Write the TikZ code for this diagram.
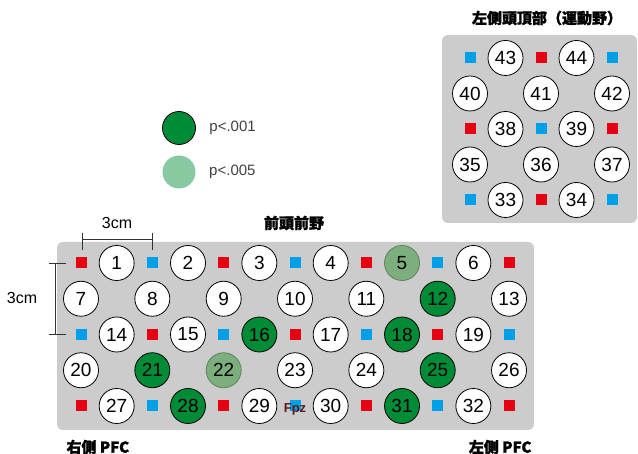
\documentclass[tikz,border=0pt]{standalone}
\usepackage{fontspec}
\setmainfont{Liberation Sans}
\newfontfamily\jp[FakeBold=1.5]{Noto Sans CJK JP}
\usetikzlibrary{positioning}

\definecolor{srcred}{HTML}{E60012}
\definecolor{detblue}{HTML}{00A0E9}
\definecolor{darkgrn}{HTML}{008B37}
\definecolor{lightgrn}{HTML}{7DAE7D}
\definecolor{legendgrn}{HTML}{88C9A1}
\definecolor{panelgray}{HTML}{CCCCCC}
\definecolor{fpzcol}{HTML}{5A1A1A}

\tikzset{
    elec/.style={circle, draw=black, line width=0.8pt, fill=white, minimum size=35pt,
                 inner sep=0pt, font=\fontsize{19}{19}\selectfont},
    sigA/.style={elec, fill=darkgrn},
    sigB/.style={elec, fill=lightgrn, draw=lightgrn!75!black},
    srcbox/.style={fill=srcred, minimum size=11pt, inner sep=0pt},
    detbox/.style={fill=detblue, minimum size=11pt, inner sep=0pt},
    jplabel/.style={font=\jp\bfseries\fontsize{15}{15}\selectfont},
    scalebar/.style={draw=black!80, line width=0.8pt}
}

\begin{document}
\begin{tikzpicture}[x=1pt, y=-1pt]
\useasboundingbox (0,0) rectangle (638,454);

% panels
\fill[panelgray, rounded corners=6pt] (57,242) rectangle (534,430);
\fill[panelgray, rounded corners=6pt] (442,35) rectangle (637,223);

% labels
\node[jplabel] (motor) at (547,18) {左側頭頂部（運動野）};
\node[jplabel] (pfc) at (294,223) {前頭前野};
\node[jplabel, anchor=west] (rpfc) at (63,447) {右側 PFC};
\node[jplabel, anchor=east] (lpfc) at (535,447) {左側 PFC};

% legend
\node[circle, draw=black, line width=0.8pt, fill=darkgrn, minimum size=33pt] (legA) at (179,128) {};
\node[circle, fill=legendgrn, minimum size=33pt] (legB) at (179,172) {};
\node[anchor=west, text=black!75, font=\fontsize{15}{15}\selectfont, right=10pt of legA] (legAt) {p<.001};
\node[anchor=west, text=black!75, font=\fontsize{15}{15}\selectfont, right=10pt of legB] (legBt) {p<.005};

% scale bars
\draw[scalebar] (82,233) -- (82,250);
\draw[scalebar] (152,233) -- (152,250);
\draw[scalebar] (82,239) -- (152,239);
\node[font=\fontsize{16}{16}\selectfont] (hcm) at (117,223) {3cm};
\draw[scalebar] (49,263) -- (66,263);
\draw[scalebar] (49,334) -- (66,334);
\draw[scalebar] (55,263) -- (55,334);
\node[font=\fontsize{16}{16}\selectfont] (vcm) at (22,298) {3cm};

% frontal grid
\begin{scope}[shift={(81,263)}, x=35.67pt, y=-35.75pt]
    \foreach \k in {0,4,8,12} {
        \node[srcbox] (sa\k) at (\k,0) {};
        \node[detbox] (da\k) at (\k,2) {};
        \node[srcbox] (sc\k) at (\k,4) {};
    }
    \foreach \k in {2,6,10} {
        \node[detbox] (db\k) at (\k,0) {};
        \node[srcbox] (sb\k) at (\k,2) {};
        \node[detbox] (dc\k) at (\k,4) {};
    }

    \foreach \k/\n in {1/1, 3/2, 5/3, 7/4, 11/6} \node[elec] (e\n) at (\k,0) {\n};
    \node[sigB] (e5) at (9,0) {5};

    \foreach \k/\n in {0/7, 2/8, 4/9, 6/10, 8/11, 12/13} \node[elec] (e\n) at (\k,1) {\n};
    \node[sigA] (e12) at (10,1) {12};

    \foreach \k/\n in {1/14, 3/15, 7/17, 11/19} \node[elec] (e\n) at (\k,2) {\n};
    \node[sigA] (e16) at (5,2) {16};
    \node[sigA] (e18) at (9,2) {18};

    \foreach \k/\n in {0/20, 6/23, 8/24, 12/26} \node[elec] (e\n) at (\k,3) {\n};
    \node[sigA] (e21) at (2,3) {21};
    \node[sigB] (e22) at (4,3) {22};
    \node[sigA] (e25) at (10,3) {25};

    \foreach \k/\n in {1/27, 5/29, 7/30, 11/32} \node[elec] (e\n) at (\k,4) {\n};
    \node[sigA] (e28) at (3,4) {28};
    \node[sigA] (e31) at (9,4) {31};

    \node[text=fpzcol, inner sep=0pt, font=\bfseries\fontsize{13}{13}\selectfont] (fpz) at ([yshift=-3pt]dc6) {Fpz};
\end{scope}

% motor grid
\begin{scope}[shift={(470,58)}, x=35.5pt, y=-35.5pt]
    \node[detbox] (m00) at (0,0) {};
    \node[srcbox] (m02) at (2,0) {};
    \node[detbox] (m04) at (4,0) {};
    \node[srcbox] (m20) at (0,2) {};
    \node[detbox] (m22) at (2,2) {};
    \node[srcbox] (m24) at (4,2) {};
    \node[detbox] (m40) at (0,4) {};
    \node[srcbox] (m42) at (2,4) {};
    \node[detbox] (m44) at (4,4) {};

    \foreach \k/\r/\n in {1/0/43, 3/0/44, 0/1/40, 2/1/41, 4/1/42, 1/2/38, 3/2/39,
                          0/3/35, 2/3/36, 4/3/37, 1/4/33, 3/4/34}
        \node[elec] (e\n) at (\k,\r) {\n};
\end{scope}

\end{tikzpicture}
\end{document}
